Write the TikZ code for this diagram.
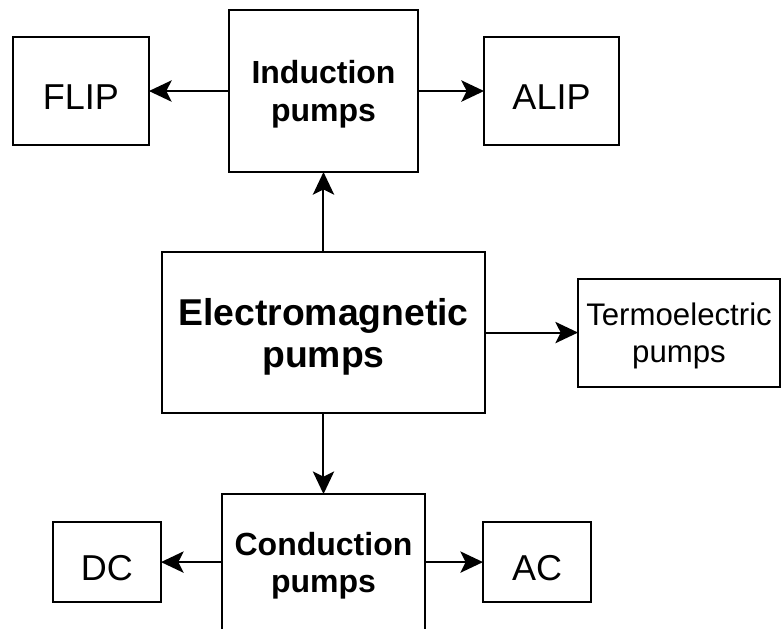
\documentclass[tikz,border=0pt]{standalone}
\usepackage{fontspec}
\setmainfont{Liberation Sans}
\usetikzlibrary{arrows.meta, positioning}

\begin{document}
\begin{tikzpicture}[
  node distance=60pt,
  every node/.style={font=\normalsize},
  box/.style={
    draw, line width=1.5pt, inner sep=0pt, outer sep=0pt,
    align=center
  },
  mainbox/.style={box, minimum width=242.25pt, minimum height=120.75pt,
                  text depth=-3.5pt,
                  font=\fontsize{28}{31.5}\selectfont\bfseries},
  typebox/.style={box, minimum height=121.5pt, text depth=-3.5pt,
                  font=\fontsize{24}{28}\selectfont\bfseries},
  leafbox/.style={box, minimum height=81pt, text height=27pt, text depth=0pt,
                  font=\fontsize{27}{31}\selectfont},
  sidebox/.style={box, minimum width=151.5pt, minimum height=81pt,
                  text depth=-3pt,
                  font=\fontsize{23.4}{28}\selectfont},
  arrow/.style={-{Stealth[length=17pt,width=16pt,inset=4pt]}, line width=1.5pt}
]

%% ── Page frame ──────────────────────────────────────────────
\useasboundingbox (-242.6pt,249.4pt) rectangle (343.1pt,-221.6pt);

%% ── Centre box ──────────────────────────────────────────────
\node[mainbox] (em) at (0,0) {Electromagnetic\\pumps};
\node[sidebox, right=69.75pt of em] (termo) {Termoelectric\\pumps};

%% ── Induction branch (top row) ──────────────────────────────
\node[typebox, minimum width=141.75pt, above=60pt of em] (ind)
      {Induction\\pumps};
\node[leafbox, minimum width=102pt, left=60pt of ind] (flip) {FLIP};
\node[leafbox, minimum width=101.25pt, right=49.5pt of ind] (alip) {ALIP};

%% ── Conduction branch (bottom row) ──────────────────────────
\node[typebox, minimum width=152.25pt, minimum height=102pt,
      below=60.75pt of em] (cond) {Conduction\\pumps};
\node[leafbox, minimum width=81pt, minimum height=60pt,
      left=45.75pt of cond] (dc) {DC};
\node[leafbox, minimum width=81pt, minimum height=60pt,
      right=43.5pt of cond] (ac) {AC};

%% ── Arrows ──────────────────────────────────────────────────
\draw[arrow] (em)   -- (ind);
\draw[arrow] (em)   -- (termo);
\draw[arrow] (em)   -- (cond);
\draw[arrow] (ind)  -- (flip);
\draw[arrow] (ind)  -- (alip);
\draw[arrow] (cond) -- (dc);
\draw[arrow] (cond) -- (ac);

\end{tikzpicture}
\end{document}
